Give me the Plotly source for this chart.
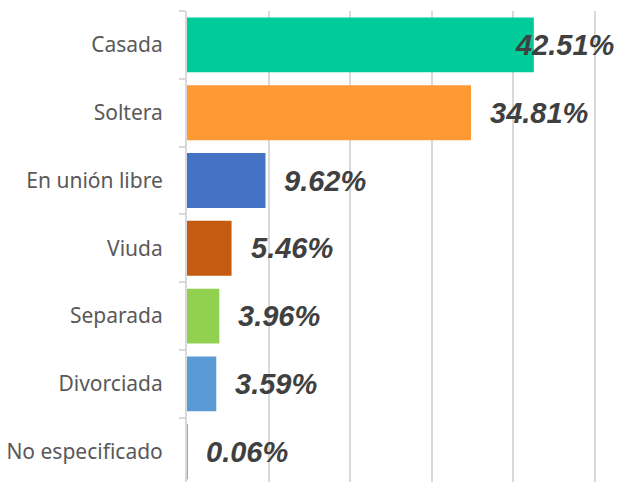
import plotly.graph_objects as go

categories = ["Casada", "Soltera", "En unión libre", "Viuda", "Separada", "Divorciada", "No especificado"]
values = [42.51, 34.81, 9.62, 5.46, 3.96, 3.59, 0.06]
labels = ["42.51%", "34.81%", "9.62%", "5.46%", "3.96%", "3.59%", "0.06%"]
colors = ["#00CC99", "#FF9933", "#4472C4", "#C55A11", "#92D050", "#5B9BD5", "#A5A5A5"]
label_shift = [-21, 17, 17, 17, 17, 17, 17]

fig = go.Figure()
fig.add_trace(go.Bar(
    y=categories, x=values, orientation="h",
    marker=dict(color=colors, line=dict(width=0)),
    width=0.81, hoverinfo="skip",
))

for c, v, t, s in zip(categories, values, labels, label_shift):
    fig.add_annotation(
        x=v, y=c, text=t, showarrow=False, xanchor="left", yanchor="middle",
        xshift=s, font=dict(family="Liberation Sans, Arial", size=29, color="#404040",
                            weight="bold", style="italic"),
    )

fig.update_layout(
    width=624, height=482,
    margin=dict(l=187, r=25, t=11, b=0),
    paper_bgcolor="white", plot_bgcolor="white",
    showlegend=False, bargap=0.19,
    xaxis=dict(range=[0, 50.5], dtick=10, showticklabels=False, showgrid=True,
               gridcolor="#D9D9D9", gridwidth=2, zeroline=False, showline=False),
    yaxis=dict(categoryorder="array", categoryarray=categories,
               range=[6.447, -0.5], showline=True, linecolor="#D9D9D9", linewidth=2,
               ticks="outside", tickson="boundaries", ticklen=6, tickcolor="#D9D9D9",
               tickwidth=2, ticklabelstandoff=18, automargin=False,
               tickfont=dict(family="Noto Sans", size=21, color="#595959")),
)

fig.write_html("out.html", config={"displayModeBar": False},
               post_script="document.body.style.margin='0';document.body.style.overflow='hidden';")
